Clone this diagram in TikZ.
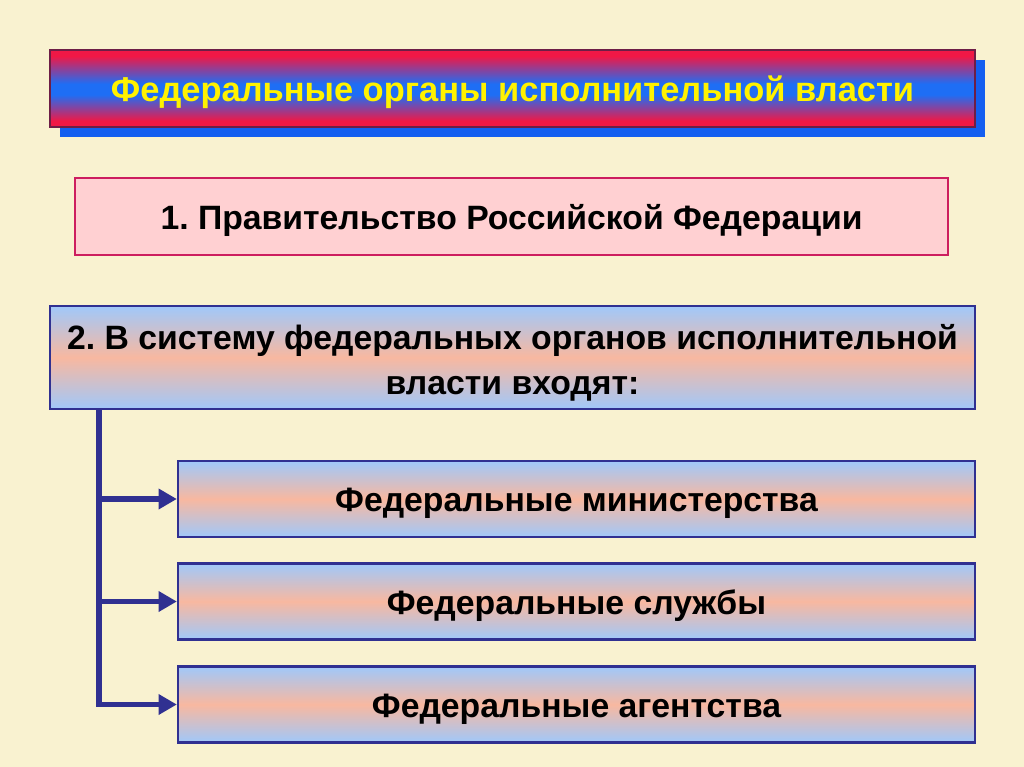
\documentclass[tikz,border=0pt]{standalone}
\usepackage{fontspec}
\setmainfont{Liberation Sans}
\usepackage{tikz}
\usetikzlibrary{arrows.meta}
\frenchspacing

\definecolor{paper}{RGB}{249,242,208}
\definecolor{titlered}{RGB}{240,24,70}
\definecolor{titleblue}{RGB}{30,110,245}
\definecolor{shadowblue}{RGB}{20,95,240}
\definecolor{titleedge}{RGB}{110,30,70}
\definecolor{govfill}{RGB}{255,208,210}
\definecolor{govedge}{RGB}{205,30,95}
\definecolor{skyblue}{RGB}{160,200,250}
\definecolor{salmon}{RGB}{248,184,160}
\definecolor{navy}{RGB}{48,48,145}

\pgfdeclareverticalshading{redblue}{100bp}{color(0bp)=(titlered); color(29bp)=(titlered);
  color(46bp)=(titleblue); color(53bp)=(titleblue); color(71bp)=(titlered); color(100bp)=(titlered)}

\tikzset{
  titlebox/.style={draw=titleedge, line width=1.2pt, shading=redblue,
    text=yellow, font=\fontsize{24.5}{28}\selectfont\bfseries,
    minimum width=23.125cm, minimum height=1.925cm, inner sep=0pt,
    text height=23pt, text depth=5pt},
  govbox/.style={draw=govedge, line width=1.5pt, fill=govfill,
    font=\fontsize{24}{28}\selectfont\bfseries,
    minimum width=21.825cm, minimum height=1.925cm, inner sep=0pt,
    text height=23pt, text depth=5pt},
  bluebox/.style={draw=navy, line width=1.5pt, top color=skyblue, bottom color=skyblue,
    middle color=salmon, font=\fontsize{24}{32}\selectfont\bfseries, inner sep=0pt},
  itembox/.style={bluebox, minimum width=19.925cm, minimum height=1.9cm,
    text height=23pt, text depth=5pt},
  branch/.style={draw=navy, line width=4pt, -{Triangle[length=13pt, width=14pt]}}
}

\begin{document}
\begin{tikzpicture}[x=0.025cm, y=-0.025cm]
    \fill[paper] (0, 0) rectangle (1024, 767);
    \useasboundingbox (0, 0) rectangle (1024, 767);

    % title with its shadow
    \fill[shadowblue] (60, 60) rectangle (985, 137);
    \node[titlebox] (F) at (512.5, 88.5){Федеральные органы исполнительной власти};

    \node[govbox] (G) at (511.5, 216.5){1. Правительство Российской Федерации};

    \node[bluebox, minimum width=23.125cm, minimum height=2.575cm, align=center] (S) at (512.5, 357.5)
      {\rule{0pt}{26pt}2. В систему федеральных органов исполнительной\\ власти входят:};

    \node[itembox] (M) at (576.5, 499){Федеральные министерства};
    \node[itembox] (Sl) at (576.5, 601.5){Федеральные службы};
    \node[itembox] (A) at (576.5, 704.5){Федеральные агентства};

    \coordinate (sp) at ([xshift=1.25cm]S.south west);
    \draw[branch] (sp) |- (M.west);
    \draw[branch] (sp) |- (Sl.west);
    \draw[branch] (sp) |- (A.west);
  \end{tikzpicture}
\end{document}
